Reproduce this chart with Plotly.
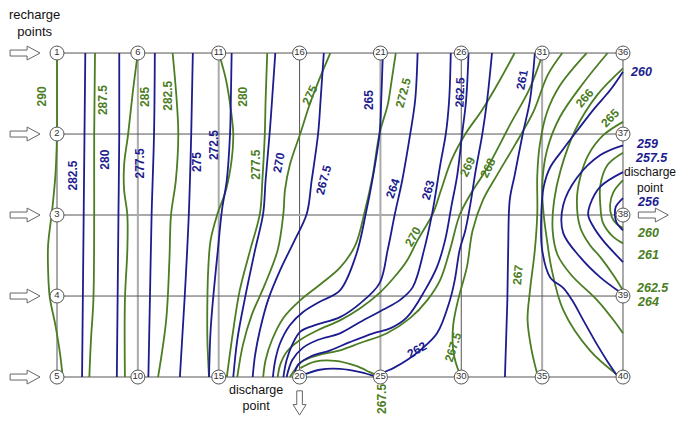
import plotly.graph_objects as go

GREEN = "#4b7d23"
BLUE = "#1c1c8f"
DARK = "#555555"
LIGHT = "#aaaaaa"

# ---- model grid (columns x rows of nodes) ----
n_cols = 8
n_rows = 5
col_style = ["dark", "light", "light", "dark", "light", "dark", "light", "dark"]
row_style = ["dark", "dark", "light", "dark", "light"]

# ---- contour lines, grid units (x: column index, y: row index downward) ----
green_lines = {
    "290":   ([0, 0, 0, -0.02, -0.06, -0.11, -0.11, -0.09, -0.02, 0.04, 0.07],
              [0, 0.58, 1.0, 1.51, 1.94, 2.37, 2.68, 3.01, 3.36, 3.73, 4.0]),
    "287.5": ([0.47, 0.46, 0.46, 0.45, 0.42, 0.40],
              [0, 1, 2, 3.05, 3.54, 4]),
    "285":   ([1.0, 0.94, 0.88, 0.83, 0.83, 0.87, 0.87, 0.84, 0.84],
              [0, 0.46, 1.0, 1.38, 1.69, 2.0, 2.43, 3.05, 4.0]),
    "282.5": ([1.43, 1.48, 1.50, 1.47, 1.41, 1.39, 1.35, 1.25],
              [0, 0.58, 1, 1.57, 2, 2.56, 3.30, 4]),
    "280":   ([2.0, 2.09, 2.15, 2.18, 2.16, 2.09, 1.98, 1.90, 1.87, 1.86, 1.86, 1.88],
              [0, 0.33, 0.70, 1.0, 1.32, 1.69, 2.0, 2.31, 2.68, 3.05, 3.54, 4.0]),
    "277.5": ([2.60, 2.58, 2.57, 2.54, 2.51, 2.39, 2.26, 2.18, 2.10],
              [0, 0.58, 1, 1.57, 1.98, 2.43, 2.93, 3.42, 4]),
    "275":   ([3.38, 3.25, 3.13, 3.01, 2.88, 2.82, 2.80, 2.73, 2.57, 2.41, 2.30, 2.23],
              [0, 0.31, 0.62, 0.99, 1.38, 1.69, 1.98, 2.43, 2.86, 3.23, 3.60, 4.0]),
    "272.5": ([4.19, 4.14, 4.09, 3.99, 3.90, 3.81, 3.69, 3.50, 3.25, 3.01, 2.80, 2.66, 2.58, 2.55],
              [0, 0.33, 0.64, 0.99, 1.54, 1.94, 2.37, 2.65, 2.86, 3.05, 3.27, 3.54, 3.79, 4.0]),
    "270":   ([5.66, 5.48, 5.26, 5.05, 4.88, 4.75, 4.65, 4.46, 4.33, 4.16, 3.99, 3.75, 3.50, 3.23, 3.01, 2.84, 2.76, 2.73],
              [0, 0.33, 0.70, 1.0, 1.32, 1.69, 1.98, 2.31, 2.56, 2.78, 2.96, 3.15, 3.30, 3.42, 3.54, 3.69, 3.85, 4.0]),
    "269":   ([6.01, 5.85, 5.60, 5.32, 5.11, 4.98, 4.86, 4.74, 4.58, 4.37, 4.08, 3.75, 3.50, 3.23, 3.03, 2.88],
              [0, 0.43, 0.89, 1.42, 1.75, 2.0, 2.43, 2.80, 3.05, 3.27, 3.46, 3.58, 3.67, 3.73, 3.81, 4.0]),
    "267.5": ([6.25, 6.07, 5.89, 5.66, 5.44, 5.27, 5.14, 5.07, 4.96, 4.90, 4.90, 4.95, 5.0],
              [0, 0.27, 0.73, 1.14, 1.51, 1.81, 2.19, 2.64, 3.05, 3.36, 3.67, 3.88, 4.0]),
    "267.5b": ([3.01, 3.19, 3.44, 3.69, 3.87, 3.99],
               [3.89, 3.81, 3.80, 3.86, 3.94, 4.0]),
    "267":   ([6.55, 6.22, 6.06, 5.97, 5.94, 5.94, 5.91, 5.85, 5.82, 5.87, 5.95],
              [0, 0.40, 0.73, 1.14, 1.51, 1.98, 2.43, 2.93, 3.30, 3.67, 4.0]),
    "266":   ([6.81, 6.51, 6.22, 6.06, 6.0, 6.02, 6.06, 6.12, 6.26, 6.59, 6.94],
              [0, 0.37, 0.79, 1.20, 1.65, 2.0, 2.31, 2.68, 3.17, 3.67, 3.98]),
    "265":   ([7.0, 6.68, 6.41, 6.23, 6.15, 6.13, 6.19, 6.36, 6.68, 6.90, 7.0],
              [0.19, 0.52, 0.95, 1.44, 1.81, 2.19, 2.49, 2.74, 3.05, 3.32, 3.46]),
    "264":   ([7.0, 6.75, 6.57, 6.47, 6.43, 6.47, 6.59, 6.72, 6.88, 7.0],
              [0.85, 1.02, 1.26, 1.54, 1.81, 2.15, 2.37, 2.52, 2.74, 2.93]),
    "262.5": ([7.0, 6.81, 6.72, 6.72, 6.75, 6.86, 7.0],
              [1.23, 1.38, 1.63, 1.88, 2.09, 2.25, 2.35]),
    "261":   ([7.0, 6.88, 6.84, 6.86, 6.92, 7.0],
              [1.57, 1.72, 1.88, 2.02, 2.11, 2.16]),
}

blue_lines = {
    "282.5": ([0.35, 0.34, 0.33, 0.32, 0.31], [0, 1, 2, 3, 4]),
    "280":   ([0.77, 0.77, 0.76, 0.75, 0.74], [0, 1, 2, 3, 4]),
    "277.5": ([1.21, 1.20, 1.17, 1.15, 1.13], [0, 1, 2, 3, 4]),
    "275":   ([1.68, 1.66, 1.63, 1.58, 1.52], [0, 1, 2, 3, 4]),
    "272.5": ([2.16, 2.15, 2.14, 2.10, 2.04, 1.99, 1.94, 1.90, 1.88],
              [0, 0.58, 1, 1.57, 1.94, 2.43, 2.93, 3.42, 4]),
    "270":   ([2.70, 2.66, 2.63, 2.58, 2.55, 2.45, 2.32, 2.23, 2.18],
              [0, 0.58, 0.99, 1.57, 1.98, 2.43, 3.05, 3.54, 4]),
    "267.5": ([3.30, 3.26, 3.23, 3.15, 3.09, 2.94, 2.76, 2.61, 2.51, 2.45, 2.42],
              [0, 0.58, 0.99, 1.57, 1.98, 2.31, 2.68, 3.05, 3.42, 3.73, 4]),
    "265":   ([4.03, 4.01, 3.99, 3.90, 3.82, 3.70, 3.50, 3.25, 3.04, 2.88, 2.76, 2.70, 2.67],
              [0, 0.58, 0.99, 1.57, 1.98, 2.49, 2.93, 3.07, 3.20, 3.36, 3.58, 3.79, 4]),
    "264":   ([4.46, 4.43, 4.37, 4.27, 4.18, 4.09, 3.99, 3.75, 3.50, 3.19, 3.01, 2.91, 2.84, 2.80],
              [0, 0.58, 0.99, 1.57, 1.98, 2.43, 2.84, 3.09, 3.26, 3.36, 3.44, 3.60, 3.79, 4]),
    "263":   ([4.87, 4.85, 4.81, 4.74, 4.64, 4.54, 4.40, 4.24, 4.03, 3.75, 3.50, 3.23, 3.04, 2.91, 2.84],
              [0, 0.58, 0.99, 1.38, 1.98, 2.43, 2.89, 3.05, 3.17, 3.32, 3.46, 3.54, 3.64, 3.79, 4]),
    "262.5": ([5.09, 5.06, 5.01, 4.95, 4.88, 4.80, 4.70, 4.55, 4.33, 4.12, 3.91, 3.62, 3.38, 3.13, 2.98, 2.93],
              [0, 0.58, 1.0, 1.51, 1.88, 2.31, 2.64, 2.93, 3.26, 3.40, 3.46, 3.57, 3.67, 3.75, 3.85, 4]),
    "262":   ([5.38, 5.32, 5.26, 5.18, 5.11, 5.05, 4.98, 4.92, 4.86, 4.70, 4.49, 4.33, 4.16, 4.03, 3.99],
              [0, 0.58, 1.0, 1.44, 1.88, 2.19, 2.43, 2.80, 3.05, 3.46, 3.67, 3.79, 3.89, 3.95, 4]),
    "262b":  ([3.03, 3.25, 3.50, 3.75, 3.96], [3.98, 3.91, 3.90, 3.94, 4.0]),
    "261":   ([5.91, 5.85, 5.76, 5.66, 5.60, 5.58, 5.57, 5.54],
              [0, 0.58, 1, 1.51, 1.81, 2.43, 3.05, 4]),
    "260":   ([7.0, 6.84, 6.65, 6.44, 6.25, 6.10, 6.02, 5.99, 6.0, 6.10, 6.26, 6.37, 6.51, 6.68, 6.81, 6.94],
              [0.23, 0.46, 0.68, 0.95, 1.20, 1.41, 1.65, 1.98, 2.43, 2.77, 2.90, 3.05, 3.30, 3.60, 3.81, 4.0]),
    "259":   ([7.0, 6.72, 6.43, 6.26, 6.26, 6.47, 6.72, 6.96],
              [1.14, 1.26, 1.54, 1.88, 2.22, 2.52, 2.77, 2.95]),
    "257.5": ([7.0, 6.72, 6.59, 6.57, 6.62, 6.75, 7.0],
              [1.47, 1.65, 1.88, 2.0, 2.12, 2.31, 2.58]),
    "256":   ([7.0, 6.91, 6.90, 6.92, 7.0], [1.79, 1.90, 2.0, 2.09, 2.19]),
}

# ---- contour labels: text, x, y, angle ----
green_labels = [
    ("290", -0.19, 0.54, -90), ("287.5", 0.57, 0.58, -90), ("285", 1.09, 0.54, -90),
    ("282.5", 1.37, 0.53, -90), ("280", 2.30, 0.54, -90), ("277.5", 2.46, 1.38, -90),
    ("275", 3.13, 0.52, -65), ("272.5", 4.28, 0.49, -75), ("270", 4.40, 2.27, -60),
    ("269", 5.08, 1.41, -65), ("268", 5.33, 1.42, -65), ("267.5", 4.90, 3.63, -72),
    ("267.5", 4.02, 4.27, -90), ("267", 5.70, 2.74, -85), ("266", 6.53, 0.56, -50),
    ("265", 6.84, 0.80, -45),
]
green_edge_labels = [("260", 7.31, 2.22), ("261", 7.31, 2.49), ("262.5", 7.37, 2.90), ("264", 7.31, 3.07)]
blue_labels = [
    ("282.5", 0.20, 1.51, -90), ("280", 0.59, 1.32, -90), ("277.5", 1.03, 1.36, -90),
    ("275", 1.74, 1.35, -90), ("272.5", 1.95, 1.14, -90), ("270", 2.75, 1.35, -80),
    ("267.5", 3.30, 1.57, -75), ("265", 3.86, 0.58, -90), ("264", 4.16, 1.67, -70),
    ("263", 4.59, 1.69, -75), ("262.5", 4.98, 0.49, -88), ("262", 4.45, 3.67, -30),
    ("261", 5.75, 0.33, -80),
]
blue_edge_labels = [("260", 7.22, 0.23), ("259", 7.30, 1.12), ("257.5", 7.35, 1.30), ("256", 7.31, 1.84)]

# recharge rows (left), discharge nodes
recharge_rows = [0, 1, 2, 3, 4]
discharge_right = (7, 2)
discharge_bottom = (3, 4)

fig = go.Figure()

# grid lines
for c in range(n_cols):
    st = col_style[c]
    fig.add_trace(go.Scatter(x=[c, c], y=[0, n_rows - 1], mode="lines",
                             line=dict(color=DARK if st == "dark" else LIGHT, width=1 if st == "dark" else 2),
                             hoverinfo="skip"))
for r in range(n_rows):
    st = row_style[r]
    fig.add_trace(go.Scatter(x=[0, n_cols - 1], y=[r, r], mode="lines",
                             line=dict(color=DARK if st == "dark" else LIGHT, width=1 if st == "dark" else 2),
                             hoverinfo="skip"))

# contour lines
for name, (xs, ys) in green_lines.items():
    fig.add_trace(go.Scatter(x=xs, y=ys, mode="lines",
                             line=dict(color=GREEN, width=1.8, shape="spline", smoothing=1.0),
                             hoverinfo="skip"))
for name, (xs, ys) in blue_lines.items():
    fig.add_trace(go.Scatter(x=xs, y=ys, mode="lines",
                             line=dict(color=BLUE, width=1.8, shape="spline", smoothing=1.0),
                             hoverinfo="skip"))

# arrows (hollow) - glyph in grid units relative to anchor, pointing +x
arrow_dx = [-0.58, -0.37, -0.37, -0.21, -0.37, -0.37, -0.58, -0.58]
arrow_dy = [-0.037, -0.037, -0.086, 0, 0.086, 0.037, 0.037, -0.037]
for r in recharge_rows:
    fig.add_trace(go.Scatter(x=[d for d in arrow_dx], y=[r + d for d in arrow_dy], mode="lines",
                             fill="toself", fillcolor="white", line=dict(color="#666", width=1),
                             hoverinfo="skip"))
# right discharge arrow
rx, ry = discharge_right
fig.add_trace(go.Scatter(x=[rx + 0.77 + d for d in arrow_dx], y=[ry + d for d in arrow_dy], mode="lines",
                         fill="toself", fillcolor="white", line=dict(color="#666", width=1), hoverinfo="skip"))
# bottom discharge arrow (pointing down)
bx, by = discharge_bottom
fig.add_trace(go.Scatter(x=[bx + d * 0.94 for d in arrow_dy], y=[by + 0.64 + 0.81 * d for d in arrow_dx],
                         mode="lines", fill="toself", fillcolor="white",
                         line=dict(color="#666", width=1), hoverinfo="skip"))

# boundary nodes only
nx, ny, nt = [], [], []
for c in range(n_cols):
    for r in range(n_rows):
        if c in (0, n_cols - 1) or r in (0, n_rows - 1):
            nx.append(c)
            ny.append(r)
            nt.append(str(c * n_rows + r + 1))
fig.add_trace(go.Scatter(x=nx, y=ny, mode="markers+text", text=nt, textposition="middle center",
                         textfont=dict(size=9.5, color="#333", family="Liberation Sans, Arial"),
                         marker=dict(size=14, color="white", line=dict(color="#555", width=1)),
                         hoverinfo="skip"))

ann = []
for t, x, y, a in green_labels:
    ann.append(dict(x=x, y=y, text="<b>%s</b>" % t, textangle=a, showarrow=False,
                    font=dict(color=GREEN, size=12, family="Liberation Sans, Arial")))
for t, x, y, a in blue_labels:
    ann.append(dict(x=x, y=y, text="<b>%s</b>" % t, textangle=a, showarrow=False,
                    font=dict(color=BLUE, size=12, family="Liberation Sans, Arial")))
for t, x, y in green_edge_labels:
    ann.append(dict(x=x, y=y, text="<b><i>%s</i></b>" % t, showarrow=False,
                    font=dict(color=GREEN, size=12.5, family="Liberation Sans, Arial")))
for t, x, y in blue_edge_labels:
    ann.append(dict(x=x, y=y, text="<b><i>%s</i></b>" % t, showarrow=False,
                    font=dict(color=BLUE, size=12.5, family="Liberation Sans, Arial")))

txt_font = dict(color="#111", size=13, family="Liberation Sans, Arial")
ann.append(dict(x=-0.28, y=-0.37, text="recharge<br>points", showarrow=False, font=txt_font))
ann.append(dict(x=2.46, y=4.26, text="discharge<br>point", showarrow=False,
                font=dict(color="#111", size=12.5, family="Liberation Sans, Arial")))
ann.append(dict(x=7.33, y=1.57, text="discharge<br>point", showarrow=False,
                font=dict(color="#111", size=12, family="Liberation Sans, Arial")))

# the page body keeps an 8 px margin, so the figure is 16 px smaller than the window
fig.update_layout(
    width=669, height=408, margin=dict(l=0, r=0, t=0, b=0),
    paper_bgcolor="white", plot_bgcolor="white", showlegend=False,
    xaxis=dict(range=[-0.606, 7.668], visible=False, fixedrange=True),
    yaxis=dict(range=[4.481, -0.556], visible=False, fixedrange=True),
    annotations=ann,
)

fig.write_html("out.html")
